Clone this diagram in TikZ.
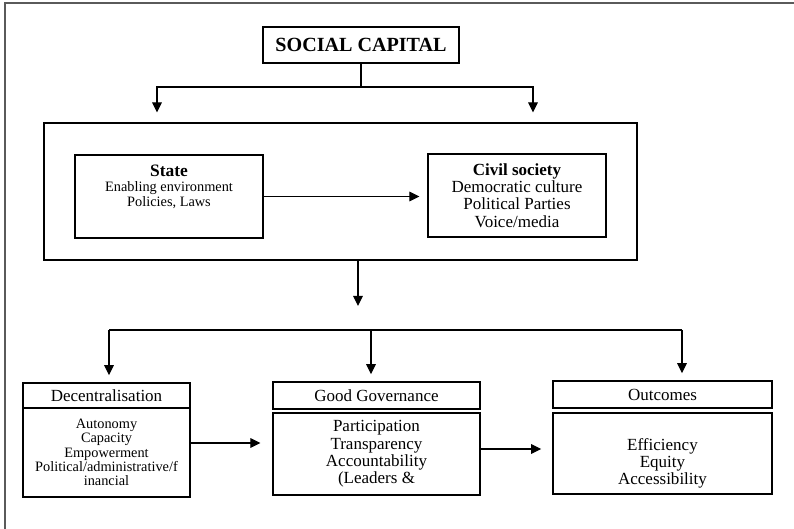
\documentclass[tikz,border=0pt]{standalone}
\usepackage{fontspec}
\setmainfont{Liberation Serif}
\usepackage{tikz}
\usetikzlibrary{arrows.meta, positioning}
\definecolor{framegray}{HTML}{5A5A5A}
\tikzset{
  boxnode/.style={draw=black,line width=0.9pt,inner sep=2pt,align=center,font=\fontsize{12.1}{12.4}\selectfont},
  smallnode/.style={boxnode,font=\fontsize{10.2}{10.2}\selectfont},
  txtnode/.style={align=center,inner sep=0pt,font=\fontsize{10.2}{10.9}\selectfont},
  plainedge/.style={line width=0.8pt},
  flowedge/.style={-{Triangle[length=2.5mm,width=2.4mm]},line width=0.8pt,shorten >=0.2cm},
}

\begin{document}
\begin{tikzpicture}
  \useasboundingbox (0,0) rectangle (19.85,13.225);
  \draw[framegray,line width=1.4pt] (0.125,0) -- (0.125,13.15) -- (19.85,13.15);

  \node[boxnode,minimum width=4.90cm,minimum height=0.90cm,font=\fontsize{14.3}{14.3}\selectfont\bfseries] (nCap) at (9.025,12.10) {SOCIAL CAPITAL};
  \node[boxnode,minimum width=14.825cm,minimum height=3.425cm] (nFrame) at (8.5125,8.4375) {};
  \node[boxnode,minimum width=4.70cm,minimum height=2.075cm] (nState) at (4.225,8.3125) {};
  \node[txtnode] (tState) at (4.225,8.55) {{\fontsize{12.4}{12.4}\selectfont\bfseries State}\\Enabling environment\\Policies, Laws};
  \node[boxnode,minimum width=4.45cm,minimum height=2.075cm] (nCivil) at (12.925,8.3375) {\textbf{Civil society}\\Democratic culture\\Political Parties\\Voice/media};

  \node[boxnode,minimum width=4.175cm,minimum height=0.625cm] (nDecHead) at (2.6625,3.3375) {Decentralisation};
  \node[smallnode,minimum width=4.175cm,minimum height=2.225cm] (nDecBody) at (2.6625,1.9125) {Autonomy\\Capacity\\Empowerment\\Political/administrative/f\\inancial};
  \node[boxnode,minimum width=5.175cm,minimum height=0.675cm] (nGovHead) at (9.4125,3.3375) {Good Governance};
  \node[boxnode,minimum width=5.175cm,minimum height=2.05cm] (nGovBody) at (9.4125,1.875) {Participation\\Transparency\\Accountability\\(Leaders \&};
  \node[boxnode,minimum width=5.475cm,minimum height=0.675cm] (nOutHead) at (16.5625,3.3625) {Outcomes};
  \node[boxnode,minimum width=5.475cm,minimum height=2.025cm] (nOutBody) at (16.5625,1.8875) {};
  \node[txtnode,font=\fontsize{12.1}{12.4}\selectfont] (tOut) at (16.5625,1.64) {Efficiency\\Equity\\Accessibility};

  \coordinate (jTop) at (9.025,11.05);
  \coordinate (jTopL) at (3.925,11.05);
  \coordinate (jTopR) at (13.325,11.05);
  \draw[plainedge] (nCap) -- (jTop);
  \draw[flowedge,shorten >=0.25cm] (jTop) -- (jTopL) -- (jTopL |- nFrame.north);
  \draw[flowedge,shorten >=0.25cm] (jTop) -- (jTopR) -- (jTopR |- nFrame.north);
  \draw[flowedge] (nState.east) -- (nState.east -| nCivil.west);

  \coordinate (jMid) at (8.95,5.575);
  \draw[flowedge,shorten >=0pt] (nFrame.south -| jMid) -- (jMid);

  \coordinate (busL) at (2.725,4.975);
  \coordinate (busC) at (9.275,4.975);
  \coordinate (busR) at (17.05,4.975);
  \draw[plainedge] (busL) -- (busR);
  \draw[flowedge,shorten >=0.18cm] (busL) -- (busL |- nDecHead.north);
  \draw[flowedge,shorten >=0.18cm] (busC) -- (busC |- nGovHead.north);
  \draw[flowedge,shorten >=0.18cm] (busR) -- (busR |- nOutHead.north);

  \draw[flowedge,shorten >=0.3cm] (nDecBody.east |- 0,2.15) -- (nGovBody.west |- 0,2.15);
  \draw[flowedge,shorten >=0.28cm] (nGovBody.east |- 0,2.0) -- (nOutBody.west |- 0,2.0);
\end{tikzpicture}
\end{document}
